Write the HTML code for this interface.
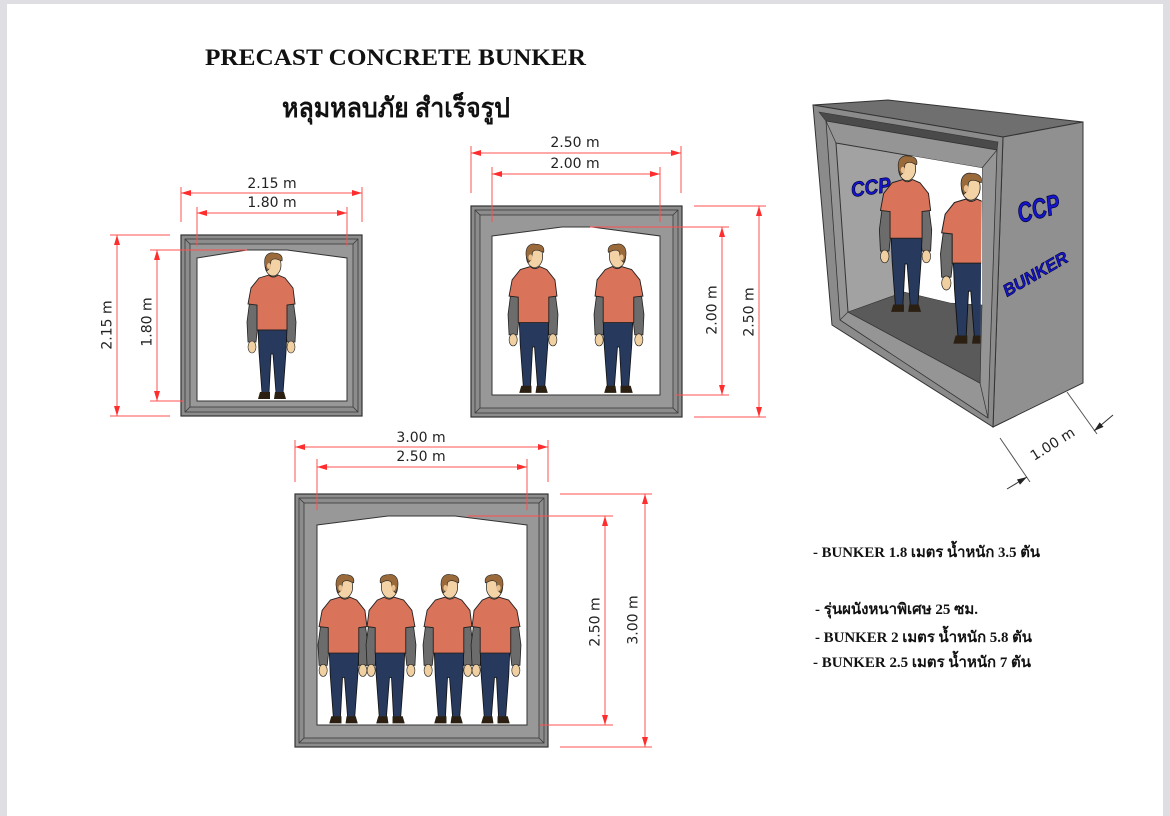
<!DOCTYPE html>
<html><head><meta charset="utf-8">
<style>
html,body{margin:0;padding:0;background:#dfdfe3;}
svg{display:block;}
.dim{font-family:"DejaVu Sans","Liberation Sans",sans-serif;font-size:14px;fill:#222;}
.rl{stroke:#ff5050;stroke-width:1;fill:none;}
.ser{font-family:"Liberation Serif","Noto Serif CJK SC",serif;font-weight:bold;fill:#111;}
</style></head>
<body>
<svg width="1170" height="816" viewBox="0 0 1170 816" xmlns="http://www.w3.org/2000/svg">
<defs>
  <marker id="ar" viewBox="0 0 10 6" refX="10" refY="3" markerWidth="10" markerHeight="6" markerUnits="userSpaceOnUse" orient="auto-start-reverse">
    <path d="M0,0 L10,3 L0,6 Z" fill="#ff2d2d"/>
  </marker>
  <marker id="ak" viewBox="0 0 10 6" refX="10" refY="3" markerWidth="10" markerHeight="6" markerUnits="userSpaceOnUse" orient="auto">
    <path d="M0,0 L10,3 L0,6 Z" fill="#222"/>
  </marker>
  <symbol id="p" viewBox="0 0 54 148">
    <!-- arms -->
    <path d="M6 47 L14 47 L14 72 L12 90 L4 90 L3 70 Z" fill="#6c6c6c" stroke="#222" stroke-width="0.8"/>
    <path d="M41 47 L49 47 L52 70 L51 90 L43 90 L41 72 Z" fill="#6c6c6c" stroke="#222" stroke-width="0.8"/>
    <ellipse cx="8" cy="95" rx="4" ry="6" fill="#f0cfa0" stroke="#222" stroke-width="0.6"/>
    <ellipse cx="47" cy="95" rx="4" ry="6" fill="#f0cfa0" stroke="#222" stroke-width="0.6"/>
    <!-- jeans -->
    <path d="M14 76 L43 76 L42 100 L39 141 L32 141 L29 102 L27 102 L25 141 L18 141 L15 100 Z" fill="#273a5e" stroke="#111" stroke-width="0.8"/>
    <path d="M16 140 L26 140 L26 147 L14 147 Z" fill="#2a1f10"/>
    <path d="M31 140 L40 140 L42 147 L30 147 Z" fill="#2a1f10"/>
    <!-- neck -->
    <rect x="25" y="20" width="8" height="7" fill="#f0cfa0"/>
    <!-- shirt -->
    <path d="M15 26 L25 23 Q29 27 34 23 L41 26 L49 36 L51 52 L43 53 L43 78 L13 78 L13 53 L4 52 L7 36 Z" fill="#d9735a" stroke="#222" stroke-width="0.9"/>
    <!-- head -->
    <ellipse cx="29" cy="13" rx="8" ry="11" fill="#f3d3a6" stroke="#222" stroke-width="0.7"/>
    <path d="M21 14 C19 3 25 0 30 1 C36 1 39 4 38 9 L35 8 C32 6 28 7 27 9 L26 16 L23 19 Z" fill="#9a6a3a" stroke="#222" stroke-width="0.6"/>
    <ellipse cx="25" cy="14" rx="2" ry="3" fill="#e8c090"/>
  </symbol>
  <clipPath id="ap"><polygon points="836,143 982,168 980,383 848,312"/></clipPath>
</defs>

<!-- page -->
<rect x="7" y="4" width="1156" height="812" fill="#ffffff"/>

<!-- titles -->
<text class="ser" x="205" y="65" font-size="23" textLength="381" lengthAdjust="spacingAndGlyphs">PRECAST CONCRETE BUNKER</text>
<text class="ser" x="282" y="117" font-size="27" textLength="228" lengthAdjust="spacingAndGlyphs" style='font-family:"Liberation Serif","Noto Sans CJK SC",serif'>หลุมหลบภัย สำเร็จรูป</text>

<!-- ===== Small bunker ===== -->
<rect x="181" y="235" width="181" height="181" fill="#8c8c8c" stroke="#333" stroke-width="1.2"/>
<rect x="185" y="239" width="173" height="173" fill="none" stroke="#3a3a3a" stroke-width="0.8"/>
<rect x="190" y="244" width="163" height="163" fill="#989898" stroke="#3a3a3a" stroke-width="0.8"/>
<path d="M185 239 L190 244 M358 239 L353 244 M185 412 L190 407 M358 412 L353 407" stroke="#3a3a3a" stroke-width="0.8"/>
<polygon points="197,258 247,250 287,250 347,258 347,401 197,401" fill="#fff" stroke="#333" stroke-width="1"/>
<use href="#p" x="244" y="252" width="54" height="148"/>
<!-- dims -->
<path class="rl" d="M181 187 V222 M362 187 V222 M197 207 V246 M347 207 V246 M110 235 H170 M110 416 H170 M150 250 H247 M150 401 H183"/>
<line class="rl" x1="181" y1="193" x2="362" y2="193" marker-start="url(#ar)" marker-end="url(#ar)"/>
<line class="rl" x1="197" y1="213" x2="347" y2="213" marker-start="url(#ar)" marker-end="url(#ar)"/>
<line class="rl" x1="117" y1="235" x2="117" y2="416" marker-start="url(#ar)" marker-end="url(#ar)"/>
<line class="rl" x1="157" y1="250" x2="157" y2="401" marker-start="url(#ar)" marker-end="url(#ar)"/>
<text class="dim" x="272" y="188" text-anchor="middle">2.15 m</text>
<text class="dim" x="272" y="207" text-anchor="middle">1.80 m</text>
<text class="dim" text-anchor="middle" transform="translate(111.5,325) rotate(-90)">2.15 m</text>
<text class="dim" text-anchor="middle" transform="translate(151.5,322) rotate(-90)">1.80 m</text>

<!-- ===== Middle bunker ===== -->
<rect x="471" y="206" width="211" height="211" fill="#8c8c8c" stroke="#333" stroke-width="1.2"/>
<rect x="475" y="210" width="203" height="203" fill="none" stroke="#3a3a3a" stroke-width="0.8"/>
<rect x="480" y="215" width="193" height="193" fill="#989898" stroke="#3a3a3a" stroke-width="0.8"/>
<path d="M475 210 L480 215 M678 210 L673 215 M475 413 L480 408 M678 413 L673 408" stroke="#3a3a3a" stroke-width="0.8"/>
<polygon points="492,236 562,227 592,227 660,236 660,395 492,395" fill="#fff" stroke="#333" stroke-width="1"/>
<use href="#p" x="505" y="243" width="55" height="151"/>
<use href="#p" x="593" y="243" width="55" height="151" transform="matrix(-1 0 0 1 1240 0)"/>
<path class="rl" d="M471 146 V193 M681 146 V193 M492 167 V222 M660 167 V222 M590 227 H729 M675 395 H729 M694 206 H766 M694 417 H766"/>
<line class="rl" x1="471" y1="153" x2="681" y2="153" marker-start="url(#ar)" marker-end="url(#ar)"/>
<line class="rl" x1="492" y1="174" x2="660" y2="174" marker-start="url(#ar)" marker-end="url(#ar)"/>
<line class="rl" x1="722" y1="227" x2="722" y2="395" marker-start="url(#ar)" marker-end="url(#ar)"/>
<line class="rl" x1="759" y1="206" x2="759" y2="417" marker-start="url(#ar)" marker-end="url(#ar)"/>
<text class="dim" x="575" y="147" text-anchor="middle">2.50 m</text>
<text class="dim" x="575" y="168" text-anchor="middle">2.00 m</text>
<text class="dim" text-anchor="middle" transform="translate(716.5,310) rotate(-90)">2.00 m</text>
<text class="dim" text-anchor="middle" transform="translate(753.5,312) rotate(-90)">2.50 m</text>

<!-- ===== Big bunker ===== -->
<rect x="295" y="494" width="253" height="253" fill="#8c8c8c" stroke="#333" stroke-width="1.2"/>
<rect x="299" y="498" width="245" height="245" fill="none" stroke="#3a3a3a" stroke-width="0.8"/>
<rect x="304" y="503" width="235" height="235" fill="#989898" stroke="#3a3a3a" stroke-width="0.8"/>
<path d="M299 498 L304 503 M544 498 L539 503 M299 743 L304 738 M544 743 L539 738" stroke="#3a3a3a" stroke-width="0.8"/>
<polygon points="317,525 388,516 455,516 527,525 527,725 317,725" fill="#fff" stroke="#333" stroke-width="1"/>
<use href="#p" x="315" y="573" width="55" height="152"/>
<use href="#p" x="365" y="573" width="55" height="152" transform="matrix(-1 0 0 1 784 0)"/>
<use href="#p" x="420" y="573" width="55" height="152"/>
<use href="#p" x="470" y="573" width="55" height="152" transform="matrix(-1 0 0 1 994 0)"/>
<path class="rl" d="M295 440 V482 M548 440 V482 M317 459 V510 M527 459 V510 M468 516 H613 M540 725 H613 M560 494 H652 M560 747 H652"/>
<line class="rl" x1="295" y1="447" x2="548" y2="447" marker-start="url(#ar)" marker-end="url(#ar)"/>
<line class="rl" x1="317" y1="467" x2="527" y2="467" marker-start="url(#ar)" marker-end="url(#ar)"/>
<line class="rl" x1="605" y1="516" x2="605" y2="725" marker-start="url(#ar)" marker-end="url(#ar)"/>
<line class="rl" x1="645" y1="494" x2="645" y2="747" marker-start="url(#ar)" marker-end="url(#ar)"/>
<text class="dim" x="421" y="442" text-anchor="middle">3.00 m</text>
<text class="dim" x="421" y="461" text-anchor="middle">2.50 m</text>
<text class="dim" text-anchor="middle" transform="translate(599.5,622) rotate(-90)">2.50 m</text>
<text class="dim" text-anchor="middle" transform="translate(637.5,620) rotate(-90)">3.00 m</text>

<!-- ===== 3D bunker ===== -->
<polygon points="813,105 888,100 1083,122 1003,137" fill="#6f6f6f" stroke="#333" stroke-width="1"/>
<polygon points="1003,137 1083,122 1083,383 993,427" fill="#909090" stroke="#333" stroke-width="1"/>
<polygon points="813,105 1003,137 993,427 832,325" fill="#8b8b8b" stroke="#333" stroke-width="1"/>
<polygon points="819,112 998,142 997,150 826,121" fill="#4a4a4a" stroke="#333" stroke-width="0.6"/>
<polygon points="826,121 997,150 988,418 840,320" fill="#959595" stroke="#333" stroke-width="0.8"/>
<polygon points="836,143 982,168 980,383 848,312" fill="#a2a2a2" stroke="#333" stroke-width="1"/>
<polygon points="912,156 982,168 982,305 950,303 904,292" fill="#fff"/>
<polygon points="848,312 904,292 950,303 982,305 980,383" fill="#5a5a5a" stroke="#333" stroke-width="0.6"/>
<path d="M840 320 L848 312 M988 418 L980 383 M826 121 L836 143 M997 150 L982 168" stroke="#333" stroke-width="0.7"/>
<text x="852" y="197" font-family="Liberation Sans,sans-serif" font-weight="bold" font-style="italic" font-size="21" fill="#1515d0" stroke="#00003a" stroke-width="0.7" transform="rotate(-8 852 197)" textLength="40" lengthAdjust="spacingAndGlyphs">CCP</text>
<use href="#p" x="876" y="155" width="58" height="158"/>
<g clip-path="url(#ap)">
<use href="#p" x="937" y="172" width="63" height="173"/>
</g>
<text x="1020" y="223" font-family="Liberation Sans,sans-serif" font-weight="bold" font-style="italic" font-size="28" fill="#1515d0" stroke="#00003a" stroke-width="0.8" transform="rotate(-14 1020 223)" textLength="43" lengthAdjust="spacingAndGlyphs">CCP</text>
<text x="1007" y="297" font-family="Liberation Sans,sans-serif" font-weight="bold" font-style="italic" font-size="17" fill="#1515d0" stroke="#00003a" stroke-width="0.6" transform="rotate(-30 1007 297)" textLength="72" lengthAdjust="spacingAndGlyphs">BUNKER</text>
<!-- 1.00 m dim -->
<path d="M1067 392 L1097 434 M1000 438 L1030 482" stroke="#555" stroke-width="1" fill="none"/>
<line x1="1113" y1="415" x2="1094" y2="431" stroke="#333" stroke-width="1" marker-end="url(#ak)"/>
<line x1="1007" y1="489" x2="1027" y2="477" stroke="#333" stroke-width="1" marker-end="url(#ak)"/>
<text class="dim" x="1055" y="448" text-anchor="middle" transform="rotate(-32 1055 448)">1.00 m</text>

<!-- bullets -->
<g class="ser" font-size="15" style='font-family:"Liberation Serif","Noto Sans CJK SC",serif'>
<text x="813" y="557" textLength="227" lengthAdjust="spacingAndGlyphs">-  BUNKER 1.8 เมตร  น้ำหนัก 3.5 ตัน</text>
<text x="815" y="614" textLength="163" lengthAdjust="spacingAndGlyphs">-  รุ่นผนังหนาพิเศษ 25 ซม.</text>
<text x="815" y="642" textLength="217" lengthAdjust="spacingAndGlyphs">-  BUNKER 2 เมตร  น้ำหนัก 5.8 ตัน</text>
<text x="813" y="667" textLength="218" lengthAdjust="spacingAndGlyphs">- BUNKER  2.5 เมตร น้ำหนัก 7  ตัน</text>
</g>
</svg>
</body></html>
